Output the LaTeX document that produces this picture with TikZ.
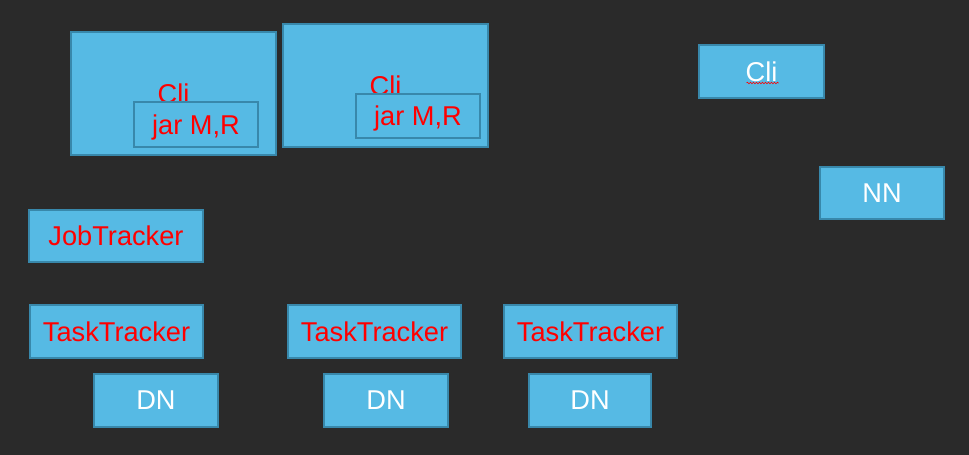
\documentclass[tikz,border=0pt]{standalone}
\usepackage{fontspec}
\setmainfont{Liberation Sans}
\usepackage{tikz}
\usetikzlibrary{calc, decorations.pathmorphing}

\definecolor{boardgray}{HTML}{2A2A2A}
\definecolor{boxblue}{HTML}{56BAE4}
\definecolor{boxedge}{HTML}{3888AB}

\tikzset{
    box/.style={draw=boxedge, fill=boxblue, line width=2.8pt, inner sep=0pt,
        text depth=0pt, font=\fontsize{27.2}{30}\selectfont},
    redtext/.style={text=red},
    whitetext/.style={text=white}
}

\begin{document}
\begin{tikzpicture}[x=1pt, y=-1pt]
    % board background
    \fill[boardgray] (0,0) rectangle (969,455);
    \useasboundingbox (0,0) rectangle (969,455);

    % client boxes with the job jar
    \node[box, redtext, minimum width=205pt, minimum height=123pt] (cliA) at (173.5,93.5) {Cli};
    \node[box, redtext, minimum width=124pt, minimum height=45pt] (jarA) at (196,124.5) {jar M,R};
    \node[box, redtext, minimum width=205pt, minimum height=123pt] (cliB) at (385.5,85.5) {Cli};
    \node[box, redtext, minimum width=124pt, minimum height=44pt] (jarB) at (418,116) {jar M,R};

    % client and name node on the right
    \node[box, whitetext, minimum width=125pt, minimum height=53pt] (cliC) at (761.5,71.5) {Cli};
    \draw[red, line width=0.6pt, decorate, decoration={snake, amplitude=0.8pt, segment length=3pt}]
        ($(cliC.center)+(-15,11.5)$) -- ($(cliC.center)+(17,11.5)$);
    \node[box, whitetext, minimum width=124pt, minimum height=52pt] (nn) at (882,193) {NN};

    % job tracker
    \node[box, redtext, minimum width=174pt, minimum height=52pt] (jt) at (116,236) {JobTracker};

    % task trackers and data nodes
    \node[box, redtext, minimum width=173pt, minimum height=53pt] (tt1) at (116.5,331.5) {TaskTracker};
    \node[box, whitetext, minimum width=124pt, minimum height=53pt] (dn1) at (156,400.5) {DN};
    \node[box, redtext, minimum width=173pt, minimum height=53pt] (tt2) at (374.5,331.5) {TaskTracker};
    \node[box, whitetext, minimum width=124pt, minimum height=53pt] (dn2) at (386,400.5) {DN};
    \node[box, redtext, minimum width=173pt, minimum height=53pt] (tt3) at (590.5,331.5) {TaskTracker};
    \node[box, whitetext, minimum width=122pt, minimum height=53pt] (dn3) at (590,400.5) {DN};
\end{tikzpicture}
\end{document}
